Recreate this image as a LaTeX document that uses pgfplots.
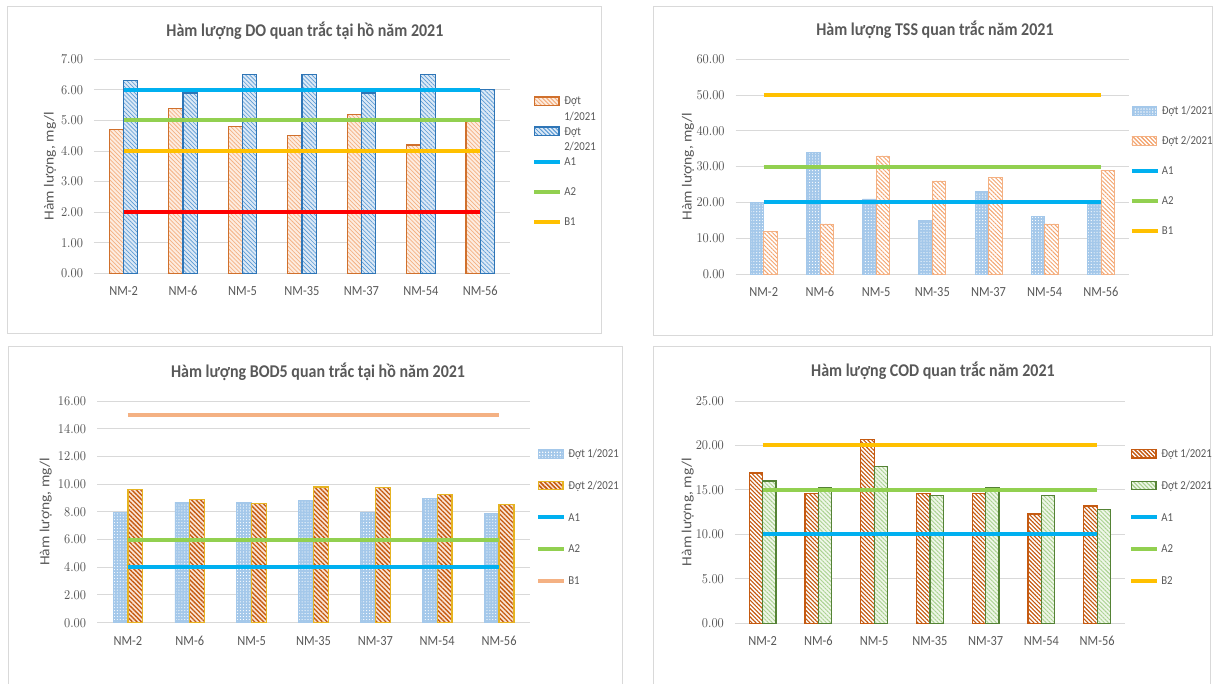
\documentclass[border=0pt]{standalone}
\usepackage{fontspec}
\setmainfont{Carlito}
\usepackage{graphicx}
\usepackage{pgfplots}
\pgfplotsset{compat=1.18}
\usetikzlibrary{patterns.meta}
\definecolor{tg}{HTML}{595959}
\definecolor{gridc}{HTML}{D9D9D9}
\definecolor{cA1}{HTML}{00B0F0}
\definecolor{cA2}{HTML}{92D050}
\definecolor{cB1}{HTML}{FFC000}
\definecolor{cRed}{HTML}{FF0000}
\definecolor{cPeach}{HTML}{F4B183}
\newcommand\vs[1]{\scalebox{1}[1.12]{#1}}
\newcommand\legone[1]{\raisebox{0pt}[7pt][2pt]{\hspace{1.5pt}\vs{#1}}}
\newcommand\legtwo[2]{\raisebox{0pt}[7pt][2pt]{\hspace{1.5pt}\vs{\begin{tabular}[t]{@{}l@{}}#1\\#2\end{tabular}}}}
\tikzset{
 do1/.style={fill={rgb,255:red,253;green,236;blue,224}, draw={rgb,255:red,208;green,112;blue,44}, line width=0.9pt,
   postaction={pattern color={rgb,255:red,244;green,177;blue,131}, pattern={Lines[angle=-45,distance=2.2pt,line width=0.55pt]}}},
 do2/.style={fill={rgb,255:red,220;green,233;blue,246}, draw={rgb,255:red,46;green,117;blue,182}, line width=0.9pt,
   postaction={pattern color={rgb,255:red,91;green,155;blue,213}, pattern={Lines[angle=-45,distance=2.2pt,line width=0.5pt]}}},
 ts1/.style={fill={rgb,255:red,164;green,200;blue,234}, draw={rgb,255:red,164;green,200;blue,234}, line width=0.5pt,
   postaction={pattern color=white, pattern={Dots[distance=2.2pt,radius=0.45pt]}}},
 ts2/.style={fill=white, draw={rgb,255:red,244;green,177;blue,131}, line width=0.6pt,
   postaction={pattern color={rgb,255:red,244;green,164;blue,110}, pattern={Lines[angle=-45,distance=2.2pt,line width=0.7pt]}}},
 bo2/.style={fill={rgb,255:red,251;green,229;blue,214}, draw={rgb,255:red,230;green,180;blue,34}, line width=0.9pt,
   postaction={pattern color={rgb,255:red,197;green,90;blue,17}, pattern={Lines[angle=-45,distance=2.4pt,line width=1pt]}}},
 co1/.style={fill=white, draw={rgb,255:red,197;green,90;blue,17}, line width=0.9pt,
   postaction={pattern color={rgb,255:red,197;green,90;blue,17}, pattern={Lines[angle=-45,distance=2.2pt,line width=0.85pt]}}},
 co2/.style={fill={rgb,255:red,240;green,247;blue,234}, draw={rgb,255:red,84;green,130;blue,53}, line width=0.9pt,
   postaction={pattern color={rgb,255:red,169;green,209;blue,142}, pattern={Lines[angle=-45,distance=2.2pt,line width=0.7pt]}}},
 la1/.style={draw=cA1, line width=3pt},
 la2/.style={draw=cA2, line width=3pt},
 lb1/.style={draw=cB1, line width=3pt},
 lred/.style={draw=cRed, line width=3pt},
 lpeach/.style={draw=cPeach, line width=3pt},
 frame/.style={draw=gridc, line width=0.75pt},
}
\pgfplotsset{
 bleg/.style={legend image code/.code={\draw[#1] (0pt,-3.25pt) rectangle (18.5pt,3.25pt);}},
 lleg/.style={legend image code/.code={\draw[#1] (0pt,0pt) -- (19.5pt,0pt);}},
 lbar/.style={ybar, bar width=0.24, bar shift=-0.12},
 rbar/.style={ybar, bar width=0.24, bar shift=0.12},
 panel/.style={
  scale only axis, anchor=south west,
  xmin=-0.5, xmax=6.5, ymin=0,
  xtick={0,...,6},
  xticklabels={\vs{NM-2},\vs{NM-6},\vs{NM-5},\vs{NM-35},\vs{NM-37},\vs{NM-54},\vs{NM-56}},
  ymajorgrids, grid style={draw=gridc, line width=0.75pt},
  axis line style={draw=none},
  tick style={draw=none},
  major tick length=0pt,
  tick label style={font=\fontsize{9.3}{11}\selectfont, text=tg},
  xticklabel style={anchor=center, yshift=-13.5pt, inner sep=0pt},
  yticklabel style={anchor=east, xshift=-8pt, inner sep=0pt,
     /pgf/number format/fixed, /pgf/number format/fixed zerofill, /pgf/number format/precision=2},
  yticklabel={\vs{\pgfmathprintnumber{\tick}}},
  scaled y ticks=false,
  title style={at={(0.5,1)}, anchor=center, font=\fontsize{12}{14}\selectfont\bfseries, text=tg},
  ylabel style={anchor=center, font=\fontsize{10.4}{12}\selectfont, text=tg},
  ylabel={\scalebox{1.12}[1]{Hàm lượng, mg/l}},
  legend cell align=left,
  legend style={at={(1,1)}, anchor=north west, draw=none, fill=none, inner sep=0pt,
     font=\fontsize{8.1}{10.6}\selectfont, text=tg, nodes={inner sep=0pt}},
 }
}
\begin{document}
\begin{tikzpicture}
\path[use as bounding box, fill=white] (0pt,0pt) rectangle (909.75pt,-513pt);
\draw[frame] (5.25pt,-5pt) rectangle (450.75pt,-249.75pt);
\draw[frame] (490.2pt,-5pt) rectangle (909pt,-251.25pt);
\draw[frame] (6pt,-260pt) rectangle (466.5pt,-520pt);
\draw[frame] (490.2pt,-260pt) rectangle (908pt,-520pt);

% DO
\begin{axis}[panel, at={(70.43pt,-204.98pt)}, width=312.08pt, height=160.5pt,
 ymax=7, ytick={0,1,...,7},
 title={\vs{Hàm lượng DO quan trắc tại hồ năm 2021}},
 title style={yshift=15.5pt, xshift=2.25pt},
 ylabel style={at={(-0.1054,0.5)}},
 legend style={xshift=16.5pt, yshift=-27pt, row sep=14.1pt}]
\addplot[lbar, do1, bleg=do1] coordinates {(0,4.7) (1,5.4) (2,4.8) (3,4.5) (4,5.2) (5,4.2) (6,5.0)};
\addplot[rbar, do2, bleg=do2] coordinates {(0,6.3) (1,5.9) (2,6.5) (3,6.5) (4,5.9) (5,6.5) (6,6.0)};
\addplot[mark=none, la1, lleg=la1] coordinates {(0,6) (6,6)};
\addplot[mark=none, la2, lleg=la2] coordinates {(0,5) (6,5)};
\addplot[mark=none, lb1, lleg=lb1] coordinates {(0,4) (6,4)};
\addplot[mark=none, lred, forget plot] coordinates {(0,2) (6,2)};
\legend{{\legtwo{Đợt}{1/2021}},{\legtwo{Đợt}{2/2021}},{\legone{A1}},{\legone{A2}},{\legone{B1}}}
\end{axis}

% TSS
\begin{axis}[panel, at={(551.7pt,-205.5pt)}, width=295.05pt, height=161pt,
 ymax=60, ytick={0,10,...,60},
 title={\vs{Hàm lượng TSS quan trắc năm 2021}},
 title style={yshift=16pt, xshift=2pt},
 ylabel style={at={(-0.121,0.5)}},
 legend style={xshift=0.5pt, yshift=-34pt, row sep=14.1pt}]
\addplot[lbar, ts1, bleg=ts1] coordinates {(0,20) (1,34) (2,21) (3,15) (4,23) (5,16) (6,20)};
\addplot[rbar, ts2, bleg=ts2] coordinates {(0,12) (1,14) (2,33) (3,26) (4,27) (5,14) (6,29)};
\addplot[mark=none, la1, lleg=la1] coordinates {(0,20) (6,20)};
\addplot[mark=none, la2, lleg=la2] coordinates {(0,30) (6,30)};
\addplot[mark=none, lb1, lleg=lb1] coordinates {(0,50) (6,50)};
\legend{{\legone{Đợt 1/2021}},{\legone{Đợt 2/2021}},{\legone{A1}},{\legone{A2}},{\legone{B1}}}
\end{axis}

% BOD5
\begin{axis}[panel, at={(72.75pt,-467.03pt)}, width=324.75pt, height=166.28pt,
 ymax=16, ytick={0,2,...,16},
 title={\vs{Hàm lượng BOD5 quan trắc tại hồ năm 2021}},
 title style={yshift=16pt, xshift=3.4pt},
 ylabel style={at={(-0.1186,0.5)}},
 legend style={xshift=4.5pt, yshift=-35pt, row sep=15.4pt}]
\addplot[lbar, ts1, bleg=ts1] coordinates {(0,7.95) (1,8.7) (2,8.7) (3,8.8) (4,8.0) (5,9.0) (6,7.9)};
\addplot[rbar, bo2, bleg=bo2] coordinates {(0,9.6) (1,8.9) (2,8.6) (3,9.8) (4,9.75) (5,9.25) (6,8.55)};
\addplot[mark=none, la1, lleg=la1] coordinates {(0,4) (6,4)};
\addplot[mark=none, la2, lleg=la2] coordinates {(0,6) (6,6)};
\addplot[mark=none, lpeach, lleg=lpeach] coordinates {(0,15) (6,15)};
\legend{{\legone{Đợt 1/2021}},{\legone{Đợt 2/2021}},{\legone{A1}},{\legone{A2}},{\legone{B1}}}
\end{axis}

% COD
\begin{axis}[panel, at={(551.1pt,-467.48pt)}, width=292.65pt, height=166.73pt,
 ymax=25, ytick={0,5,...,25},
 title={\vs{Hàm lượng COD quan trắc năm 2021}},
 title style={yshift=16.7pt, xshift=2.3pt},
 ylabel style={at={(-0.1205,0.5)}},
 legend style={xshift=3pt, yshift=-35pt, row sep=15.4pt}]
\addplot[lbar, co1, bleg=co1] coordinates {(0,16.9) (1,14.6) (2,20.7) (3,14.6) (4,14.6) (5,12.3) (6,13.2)};
\addplot[rbar, co2, bleg=co2] coordinates {(0,16.0) (1,15.25) (2,17.6) (3,14.4) (4,15.25) (5,14.4) (6,12.8)};
\addplot[mark=none, la1, lleg=la1] coordinates {(0,10) (6,10)};
\addplot[mark=none, la2, lleg=la2] coordinates {(0,15) (6,15)};
\addplot[mark=none, lb1, lleg=lb1] coordinates {(0,20) (6,20)};
\legend{{\legone{Đợt 1/2021}},{\legone{Đợt 2/2021}},{\legone{A1}},{\legone{A2}},{\legone{B2}}}
\end{axis}
\end{tikzpicture}
\end{document}
